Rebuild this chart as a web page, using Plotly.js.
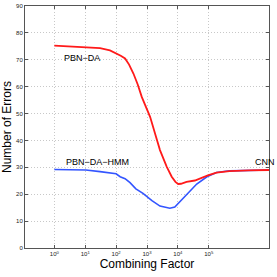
<!DOCTYPE html>
<html><head><meta charset="utf-8">
<script src="https://cdn.plot.ly/plotly-3.0.1.min.js"></script>
<style>html,body{margin:0;padding:0;background:#fff;}#c{width:277px;height:277px;}</style>
</head><body><div id="c"></div>
<script>
const redLogX = [0, 0.51, 1.02, 1.48, 1.8, 2.02, 2.15, 2.29, 2.42, 2.56, 2.7, 2.83, 2.97, 3.10, 3.26, 3.42, 3.64, 3.80, 3.92, 4.01, 4.1, 4.28, 4.55, 4.78, 4.97, 5.25, 5.67, 6.3, 6.95];
const redY    = [75.3, 75.0, 74.6, 74.3, 73.5, 72.4, 71.5, 70.5, 68.2, 64.9, 60.8, 56.2, 52.5, 48.8, 42.6, 36.4, 30.2, 26.5, 24.6, 23.8, 23.9, 24.6, 25.1, 26.2, 27, 28, 28.6, 28.9, 29];
const blueLogX = [0, 1.02, 1.48, 2.0, 2.13, 2.29, 2.45, 2.64, 2.87, 3.16, 3.42, 3.6, 3.74, 3.9, 4.0, 4.29, 4.61, 4.94, 5.25, 5.67, 6.95];
const blueY    = [29.2, 29, 28.4, 27.6, 26.5, 25.8, 24.3, 22, 20.3, 17.6, 15.6, 15.2, 14.8, 15.2, 16.4, 19.7, 23.8, 26.5, 28.1, 28.7, 29];
const xTickVals = [1, 10, 100, 1000, 10000, 100000];
const xTickText = ['10<sup>0</sup>','10<sup>1</sup>','10<sup>2</sup>','10<sup>3</sup>','10<sup>4</sup>','10<sup>5</sup>'];
const yTickVals = [0,10,20,30,40,50,60,70,80,90];
const labels = ['PBN\u2212DA', 'PBN\u2212DA\u2212HMM', 'CNN'];

const toX = a => a.map(v => Math.pow(10, v));
const traces = [
  {x: toX(blueLogX), y: blueY, mode:'lines', line:{color:'#3355ff', width:1.6}, hoverinfo:'skip'},
  {x: toX(redLogX), y: redY, mode:'lines', line:{color:'#ff1a1a', width:1.8}, hoverinfo:'skip'}
];
const axBase = {showline:true, linecolor:'#555', linewidth:1, mirror:'ticks', ticks:'inside', ticklen:3, tickcolor:'#555',
  showgrid:true, gridcolor:'#c8c8c8', griddash:'1px,2px', gridwidth:1, zeroline:false, tickfont:{family:'Liberation Sans, Arial', size:6, color:'#222'}};
const layout = {
  width:277, height:277, margin:{l:25, r:8, t:6, b:29}, showlegend:false,
  paper_bgcolor:'#fff', plot_bgcolor:'#fff',
  xaxis: Object.assign({}, axBase, {type:'log', range:[-0.95, 6.95], tickvals:xTickVals, ticktext:xTickText,
    title:{text:'Combining Factor', font:{family:'Liberation Sans, Arial', size:12, color:'#000'}, standoff:3}}),
  yaxis: Object.assign({}, axBase, {range:[0,90], tickvals:yTickVals,
    title:{text:'Number of Errors', font:{family:'Liberation Sans, Arial', size:12, color:'#000'}, standoff:2}}),
  annotations: [
    {x:0.9, y:70.5, xref:'x', yref:'y', text:labels[0], showarrow:false, font:{family:'Liberation Sans, Arial', size:9, color:'#000'}},
    {x:1.4, y:32, xref:'x', yref:'y', text:labels[1], showarrow:false, font:{family:'Liberation Sans, Arial', size:9, color:'#000'}},
    {x:1, xref:'paper', xanchor:'right', y:32, yref:'y', text:labels[2], showarrow:false, font:{family:'Liberation Sans, Arial', size:9, color:'#000'}, xshift:8}
  ]
};
Plotly.newPlot('c', traces, layout, {staticPlot:true});
</script></body></html>
